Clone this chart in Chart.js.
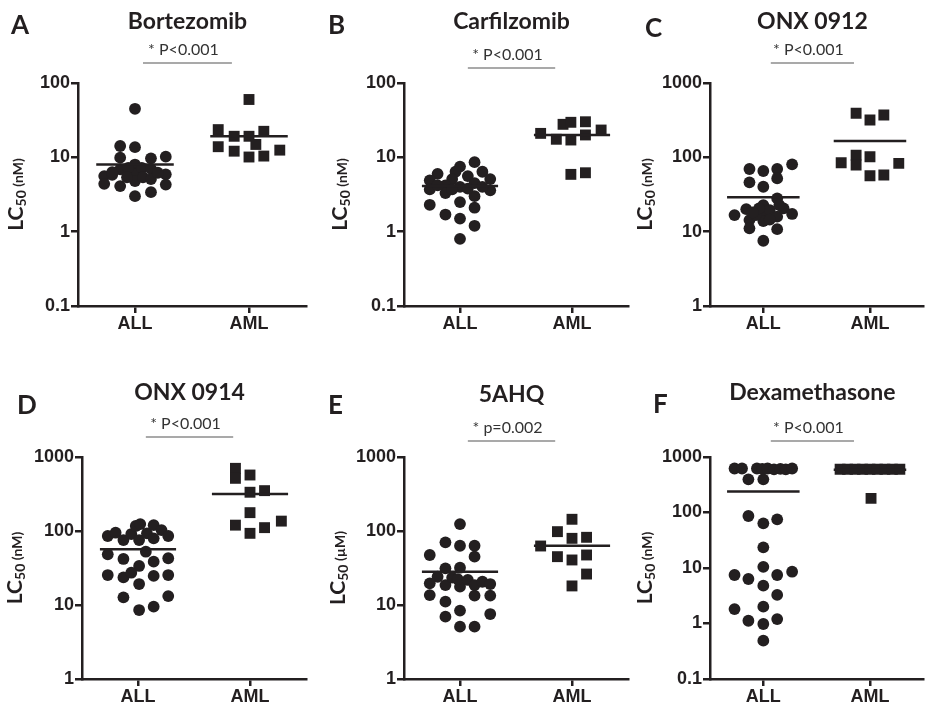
<!DOCTYPE html>
<html>
<head>
<meta charset="utf-8">
<script src="https://cdn.jsdelivr.net/npm/chart.js@4.4.0/dist/chart.umd.min.js"></script>
<style>
  html, body { margin: 0; padding: 0; background: #fff; }
  #wrap { position: relative; width: 931px; height: 706px; overflow: hidden; }
  #wrap canvas { position: absolute; left: 0; top: 0; }
</style>
</head>
<body>
<div id="wrap">
  <canvas id="panelA" width="931" height="706"></canvas>
  <canvas id="panelB" width="931" height="706"></canvas>
  <canvas id="panelC" width="931" height="706"></canvas>
  <canvas id="panelD" width="931" height="706"></canvas>
  <canvas id="panelE" width="931" height="706"></canvas>
  <canvas id="panelF" width="931" height="706"></canvas>
</div>
<script>
const groups = ['ALL', 'AML'];

// x = offset from the group column (beeswarm spread), y = LC50
// A - Bortezomib (nM)
const bortAllX = [0, -0.13, 0, -0.13, 0.14, 0.27, -0.27, -0.27, -0.13, -0.13, -0.2, 0, 0, 0, 0, -0.06, 0.06, 0.07, -0.07, 0.14, 0.14, 0.14, 0, 0.27, 0.27, 0.2, -0.2];
const bortAllY = [45, 14.2, 13.7, 9.9, 9.7, 10.2, 5.6, 4.4, 6.9, 4.1, 5.8, 8.0, 6.5, 5.9, 4.8, 7.2, 7.2, 5.4, 5.4, 7.0, 5.1, 3.4, 3.0, 5.9, 4.3, 6.2, 6.3];
const bortAmlX = [0, -0.27, 0.13, -0.13, 0, -0.27, -0.13, 0.06, 0.27, 0, 0.13];
const bortAmlY = [60, 23.6, 22.4, 19.2, 19.2, 13.9, 12.1, 14.9, 12.5, 10.1, 10.4];
const bortMean = [8.0, 19.2];

// B - Carfilzomib (nM)
const carfAllX = [0.13, 0, -0.04, -0.2, 0.2, 0.07, -0.27, 0.27, -0.07, -0.27, -0.13, -0.13, 0, 0.13, 0.13, 0.27, 0.2, 0.07, -0.2, -0.27, -0.13, 0, 0, 0.13, 0.13, 0, -0.07];
const carfAllY = [8.6, 7.5, 6.4, 6.0, 6.4, 5.6, 4.9, 5.1, 5.1, 3.7, 4.2, 3.3, 4.0, 4.5, 3.0, 3.6, 4.0, 3.8, 4.2, 2.3, 1.7, 2.5, 1.5, 2.1, 1.2, 0.8, 3.7];
const carfAmlX = [-0.28, -0.14, -0.08, -0.01, -0.01, 0.12, 0.12, 0.26, -0.01, 0.12];
const carfAmlY = [21, 17.5, 27.8, 29.6, 17.1, 30.1, 20, 23.3, 5.9, 6.2];
const carfMean = [4.1, 20];

// C - ONX 0912 (nM)
const onx12AllX = [-0.13, 0, 0.13, 0.27, -0.13, 0.13, 0, 0.13, -0.27, -0.16, -0.13, -0.13, 0, 0, 0, -0.07, 0.06, 0.13, 0.19, 0.27, 0.13, 0, -0.04, 0.06, 0.15, -0.1];
const onx12AllY = [69.7, 65.5, 69.7, 80.5, 46.1, 52, 40.2, 28, 16.7, 20.1, 14.3, 11.1, 22.8, 18.5, 13.9, 16.7, 19.5, 15.9, 20.6, 17.3, 10.8, 7.55, 20.6, 14.5, 22.8, 18.2];
const onx12AmlX = [-0.13, 0, 0.13, -0.27, -0.13, -0.13, 0, 0.27, 0, 0.13];
const onx12AmlY = [391, 318, 371, 84.5, 107, 78.7, 102, 83, 56.5, 57.8];
const onx12Mean = [29, 166];

// D - ONX 0914 (nM)
const onx14AllX = [-0.27, -0.2, -0.13, -0.06, -0.02, 0.02, 0.01, 0.08, 0.14, 0.14, 0.21, 0.27, 0.07, -0.27, -0.13, 0.01, 0.14, 0.27, -0.27, -0.13, -0.06, 0.01, 0.14, 0.27, -0.13, 0.27, 0.01, 0.14];
const onx14AllY = [85.6, 94.8, 75.5, 91, 117, 124, 75.5, 93, 120, 79.6, 103, 85.6, 52.5, 48.4, 41.9, 33.7, 38.5, 42.8, 25.4, 23.6, 27.3, 19.2, 24.7, 25.4, 12.7, 13.2, 8.55, 9.5];
const onx14AmlX = [-0.13, -0.13, 0, 0, 0.13, 0, -0.13, 0.13, 0.28, 0];
const onx14AmlY = [703, 515, 571, 334, 351, 177, 120, 111, 136, 93];
const onx14Mean = [56.6, 316];

// E - 5AHQ (µM)
const ahqAllX = [0, -0.13, 0, 0.13, -0.27, 0.13, -0.13, 0, -0.2, -0.27, -0.13, -0.07, 0, -0.02, 0.07, 0.13, 0.2, 0.27, -0.27, -0.13, 0.13, 0.27, 0, -0.13, 0.27, 0, 0.13];
const ahqAllY = [124, 70.3, 63.2, 63.2, 47.4, 45, 31.3, 31.9, 24.1, 19.6, 18.6, 23.4, 17.7, 22.4, 21.8, 18.6, 20.6, 19.2, 13.6, 11.1, 13.4, 13.4, 8.4, 6.95, 7.55, 5.1, 5.1];
const ahqAmlX = [0, -0.13, 0, 0.13, -0.28, -0.13, 0, 0.13, 0.13, 0];
const ahqAmlY = [144, 98, 79.6, 82.2, 62.7, 45, 40.6, 47.4, 26.2, 18.1];
const ahqMean = [28.2, 63.2];

// F - Dexamethasone (nM)
const dexAllX = [-0.27, -0.2, -0.06, -0.01, 0.04, 0.1, 0.16, 0.21, 0.27, -0.14, 0, -0.14, 0, 0.13, 0, 0, -0.27, -0.14, 0.13, 0.27, 0, 0.13, -0.27, 0, -0.14, 0, 0.13, 0];
const dexAllY = [620, 620, 620, 610, 620, 600, 610, 600, 620, 396, 396, 86.5, 63.8, 75.3, 23.6, 10.5, 7.48, 6.34, 7.48, 8.57, 4.8, 3.27, 1.82, 2.01, 1.12, 0.98, 1.2, 0.49];
const dexAmlX = [-0.28, -0.21, -0.14, -0.07, 0, 0.07, 0.14, 0.21, 0.28, 0.01];
const dexAmlY = [600, 600, 600, 600, 600, 600, 600, 600, 600, 180];
const dexMean = [240, 590];

// y tick labels
const ticksLow = [0.1, 1, 10, 100];
const ticksHigh = [1, 10, 100, 1000];
const ticksWide = [0.1, 1, 10, 100, 1000];

const ink = '#231f20';
const meanHalf = 0.34;           // half length of the mean bar, in x units
const bracketSpan = [1.07, 1.85]; // significance bar, in x units
const yAxisW = 60;
const xAxisH = 24;

const panels = [
  { id: 'panelA', letter: 'A', title: 'Bortezomib', pText: '* P<0.001', unit: 'nM', ticks: ticksLow,
    allX: bortAllX, allY: bortAllY, amlX: bortAmlX, amlY: bortAmlY, mean: bortMean,
    area: [78, 83, 306, 306], letterPos: [11, 34], titleY: 29, bracketY: 63, yTitleX: 16 },
  { id: 'panelB', letter: 'B', title: 'Carfilzomib', pText: '* P<0.001', unit: 'nM', ticks: ticksLow,
    allX: carfAllX, allY: carfAllY, amlX: carfAmlX, amlY: carfAmlY, mean: carfMean,
    area: [404, 83, 628, 306], letterPos: [328, 34], titleY: 29, bracketY: 68, yTitleX: 340 },
  { id: 'panelC', letter: 'C', title: 'ONX 0912', pText: '* P<0.001', unit: 'nM', ticks: ticksHigh,
    allX: onx12AllX, allY: onx12AllY, amlX: onx12AmlX, amlY: onx12AmlY, mean: onx12Mean,
    area: [710, 83, 931, 306], letterPos: [645, 37], titleY: 29, bracketY: 63, yTitleX: 645 },
  { id: 'panelD', letter: 'D', title: 'ONX 0914', pText: '* P<0.001', unit: 'nM', ticks: ticksHigh,
    allX: onx14AllX, allY: onx14AllY, amlX: onx14AmlX, amlY: onx14AmlY, mean: onx14Mean,
    area: [82, 457, 306, 679], letterPos: [17, 414], titleY: 400, bracketY: 437, yTitleX: 15 },
  { id: 'panelE', letter: 'E', title: '5AHQ', pText: '* p=0.002', unit: '\u00b5M', ticks: ticksHigh,
    allX: ahqAllX, allY: ahqAllY, amlX: ahqAmlX, amlY: ahqAmlY, mean: ahqMean,
    area: [404, 457, 628, 679], letterPos: [328, 414], titleY: 402, bracketY: 441, yTitleX: 338 },
  { id: 'panelF', letter: 'F', title: 'Dexamethasone', pText: '* P<0.001', unit: 'nM', ticks: ticksWide,
    allX: dexAllX, allY: dexAllY, amlX: dexAmlX, amlY: dexAmlY, mean: dexMean,
    area: [710, 457, 931, 679], letterPos: [653, 413], titleY: 400, bracketY: 441, yTitleX: 645 }
];

// letter, drug name, p value with its bar, and the LC50 axis title
const panelDecor = {
  id: 'panelDecor',
  afterDraw(chart, args, opts) {
    const ctx = chart.ctx;
    const area = chart.chartArea;
    const xs = chart.scales.x;
    const bx0 = xs.getPixelForValue(bracketSpan[0]);
    const bx1 = xs.getPixelForValue(bracketSpan[1]);
    const mid = (bx0 + bx1) / 2;

    ctx.save();
    ctx.fillStyle = ink;
    ctx.textBaseline = 'alphabetic';

    ctx.font = 'bold 26px Lato';
    ctx.textAlign = 'left';
    ctx.fillText(opts.letter, opts.letterPos[0], opts.letterPos[1]);

    ctx.font = 'bold 23px Lato';
    ctx.textAlign = 'center';
    ctx.fillText(opts.title, mid, opts.titleY);

    ctx.fillStyle = '#333';
    ctx.font = '16px Lato';
    ctx.fillText(opts.pText, mid - 4, opts.bracketY - 8);

    ctx.strokeStyle = '#555';
    ctx.lineWidth = 1.2;
    ctx.beginPath();
    ctx.moveTo(bx0, opts.bracketY);
    ctx.lineTo(bx1, opts.bracketY);
    ctx.stroke();

    // rotated y title: LC + subscript 50 + (unit)
    ctx.fillStyle = ink;
    ctx.translate(opts.yTitleX, (area.top + area.bottom) / 2);
    ctx.rotate(-Math.PI / 2);
    ctx.textAlign = 'left';
    const parts = [
      ['LC', 'bold 21px Lato', 0],
      ['50', 'bold 14px Lato', 3],
      [' (' + opts.unit + ')', 'bold 14px Lato', 0]
    ];
    let total = 0;
    parts.forEach(p => { ctx.font = p[1]; total += ctx.measureText(p[0]).width; });
    let x = -total / 2;
    parts.forEach(p => {
      ctx.font = p[1];
      ctx.fillText(p[0], x, 7 + p[2]);
      x += ctx.measureText(p[0]).width;
    });
    ctx.restore();
  }
};

function buildDatasets(p) {
  const pts = (xs, ys, c) => ys.map((v, i) => ({ x: c + xs[i], y: v }));
  const bar = (c, m) => [{ x: c - meanHalf, y: m }, { x: c + meanHalf, y: m }];
  const lineSet = (c, m) => ({
    data: bar(c, m), showLine: true, borderColor: ink, borderWidth: 2.5, pointRadius: 0
  });
  return [
    lineSet(1, p.mean[0]),
    lineSet(2, p.mean[1]),
    { data: pts(p.allX, p.allY, 1), pointStyle: 'circle', pointRadius: 5.9,
      pointBackgroundColor: ink, pointBorderColor: ink, pointBorderWidth: 0 },
    { data: pts(p.amlX, p.amlY, 2), pointStyle: 'rect', pointRadius: 7.7,
      pointBackgroundColor: ink, pointBorderColor: ink, pointBorderWidth: 0 }
  ];
}

const tickFont = { family: 'Liberation Sans', size: 18, weight: 'bold' };

panels.forEach(p => {
  const [l, t, r, b] = p.area;
  new Chart(document.getElementById(p.id), {
    type: 'scatter',
    data: { datasets: buildDatasets(p) },
    options: {
      responsive: false,
      animation: false,
      events: [],
      layout: { padding: { left: l - yAxisW, top: t, right: 931 - r, bottom: 706 - b - xAxisH } },
      plugins: {
        legend: { display: false },
        tooltip: { enabled: false },
        panelDecor: {
          letter: p.letter, title: p.title, pText: p.pText, unit: p.unit,
          letterPos: p.letterPos, titleY: p.titleY, bracketY: p.bracketY, yTitleX: p.yTitleX
        }
      },
      scales: {
        x: {
          type: 'linear', min: 0.5, max: 2.5,
          afterBuildTicks: s => { s.ticks = groups.map((g, i) => ({ value: i + 1 })); },
          afterFit: s => { s.height = xAxisH; },
          ticks: { callback: v => groups[Math.round(v) - 1], font: tickFont, color: ink, padding: 0, autoSkip: false, maxRotation: 0 },
          grid: { drawOnChartArea: false, drawTicks: true, tickLength: 7, lineWidth: 2.5, color: ink },
          border: { display: true, width: 2.5, color: ink }
        },
        y: {
          type: 'logarithmic', min: p.ticks[0], max: p.ticks[p.ticks.length - 1],
          afterBuildTicks: s => { s.ticks = p.ticks.map(v => ({ value: v })); },
          afterFit: s => { s.width = yAxisW; },
          ticks: { callback: v => String(v), font: tickFont, color: ink, padding: 1, autoSkip: false },
          grid: { drawOnChartArea: false, drawTicks: true, tickLength: 7, lineWidth: 2.5, color: ink },
          border: { display: true, width: 2.5, color: ink }
        }
      }
    },
    plugins: [panelDecor]
  });
});
</script>
</body>
</html>
